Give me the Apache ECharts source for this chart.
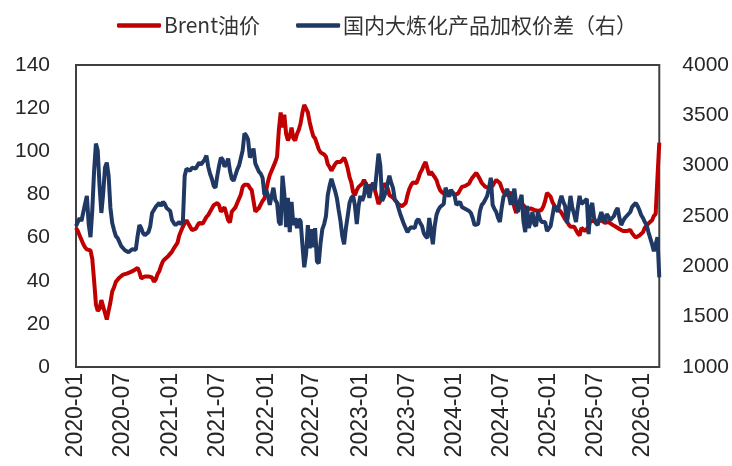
<!DOCTYPE html>
<html>
<head>
<meta charset="utf-8">
<script src="https://cdn.jsdelivr.net/npm/echarts@6/dist/echarts.min.js"></script>
<style>
html,body{margin:0;padding:0;background:#fff;}
#c{width:732px;height:466px;}
</style>
</head>
<body>
<div id="c"></div>
<script>
// Weekly observations starting 2020-01-03
const startDate = '2020-01-03';
const seriesNames = ['Brent油价', '国内大炼化产品加权价差（右）'];
const leftTicks = [0, 140, 20];
const rightTicks = [1000, 4000, 500];

const brent = [
64.5,63,61,59,57,55.5,54.5,55,54,50,
40,29,26,27,31,28,25,22,26,30,
35,37,39.5,40.5,41.5,42,42.8,43,43.3,43.5,
44,44.2,44.8,45.5,46,44,41,41.5,42,41.5,
42,42.5,41.5,39.5,40.5,43,44.5,47,49,50,
50.5,51.5,52,53.5,55,55.5,57.5,61,63,65,
66.8,68,66.5,65,63.5,62.6,64,65.5,66.8,67.5,
66.5,68,69.5,70.5,72,73.5,75,75.5,76,75,
72,73,74,71,68,67,72,73,74,76,
78,80,83.5,84.5,85.3,84.5,83,82,77,72,
71.5,73.7,74,77,78,82,86,89,91,93,
95,97.5,110,118,111,117,108,105,107,111,
106,105,108,110,113,118,121.5,121,118,113.5,
110,107,106,106,101,99.5,99,98.5,97.5,94,
92.7,91,92.5,94,95,94.5,95,96,97,95,
92,88,85.5,81,79.7,82,83.5,84,85,86.7,
85,83,84,84.5,84,82,79,75.5,77,82.5,
85,85.3,83,79.7,79.5,78.5,77.5,76.5,75.5,75,
74.5,74,76,79.7,82.5,84.4,85.5,85.8,85.3,87.5,
90,91.5,93.5,95,92,89,90.5,90.5,88,86.7,
84,82,81,80.5,80,79.7,80,80.8,81,79.7,
80,80.5,82,83.5,83.8,84,84.4,85,86.7,88,
89,90,88.5,87,85.3,84.5,83.5,83,83,83.3,
84,85.5,86.7,86,85.3,83,81,80.5,79.7,80,
81,78,74,71.4,73.5,76,76.5,75,74,73,
72.8,73.5,73.7,72.8,72,72.3,72.5,72.8,74.5,77,
80.7,81,79,76.5,75,73.5,72.8,72.5,71.5,70,
68.5,67.5,66,65,64.8,65,64.4,62,61,64.5,
64,63,62.6,65,68,68.5,67.5,67,67.5,68,
68,67.5,66.8,67,67.2,66.8,66,65.5,65,64.5,
64,63.5,63,62.6,63,63.3,63.5,62,61,60,
60.5,61,61,62.5,64.5,65.5,66.5,67,68,70,
71,88,104
];

const spread = [
2400,2390,2480,2450,2440,2620,2700,2420,2290,2560,
2950,3220,3150,2800,2530,2720,2980,3030,2900,2580,
2430,2360,2300,2280,2270,2200,2180,2160,2145,2140,
2150,2170,2160,2165,2300,2410,2380,2330,2310,2320,
2340,2400,2530,2560,2590,2610,2630,2600,2640,2620,
2580,2570,2550,2460,2430,2410,2420,2440,2420,2440,
2900,2970,2960,2950,2980,2990,2970,2980,3030,3010,
3000,3060,3100,2990,2920,2870,2800,2780,2900,3000,
3080,3060,2990,3020,3070,2950,2870,2850,2840,2960,
3000,3000,3150,3320,3300,3260,3080,3120,3170,3020,
2980,2940,2920,2880,2710,2760,2700,2610,2700,2780,
2660,2630,2440,2410,2900,2720,2390,2680,2340,2640,
2410,2480,2380,2470,2450,2210,1990,2120,2410,2180,
2370,2190,2380,2050,2030,2230,2370,2420,2500,2710,
2800,2870,2880,2750,2680,2560,2450,2300,2220,2380,
2500,2630,2680,2700,2600,2420,2600,2700,2650,2700,
2830,2760,2680,2780,2830,2760,2750,3120,3000,2650,
2690,2740,2820,2900,2830,2780,2660,2640,2630,2520,
2470,2420,2380,2340,2370,2390,2385,2380,2450,2470,
2430,2400,2330,2300,2280,2480,2350,2220,2400,2510,
2560,2590,2600,2620,2780,2790,2690,2760,2770,2700,
2610,2620,2640,2590,2580,2570,2560,2550,2530,2480,
2410,2400,2420,2550,2610,2630,2640,2700,2780,2880,
2610,2570,2540,2480,2440,2580,2690,2720,2770,2700,
2610,2700,2770,2620,2540,2650,2710,2450,2340,2600,
2380,2450,2540,2420,2400,2540,2480,2440,2440,2440,
2350,2360,2400,2500,2600,2580,2540,2640,2700,2640,
2600,2430,2550,2700,2580,2520,2440,2580,2700,2620,
2610,2650,2670,2320,2580,2630,2480,2430,2410,2480,
2540,2480,2440,2520,2530,2460,2450,2500,2550,2580,
2480,2410,2450,2480,2500,2520,2540,2590,2610,2630,
2600,2560,2510,2480,2440,2410,2340,2280,2220,2150,
2160,2290,1890
];

// Weekly date categories
const dates = [];
(function(){
  const d = new Date(startDate + 'T00:00:00Z');
  for (let i = 0; i < brent.length; i++) {
    const t = new Date(d.getTime() + i * 7 * 86400000);
    dates.push(t.toISOString().slice(0, 10));
  }
})();

function isHalfYearStart(v) {
  const m = v.slice(5, 7), day = +v.slice(8, 10);
  return (m === '01' || m === '07') && day <= 7;
}

const chart = echarts.init(document.getElementById('c'), null, {renderer: 'canvas'});
const axisFont = {fontFamily: '"Liberation Sans", Arial, sans-serif', fontSize: 21, color: '#262626'};
chart.setOption({
  animation: false,
  backgroundColor: '#fff',
  legend: {
    top: 10,
    left: 112,
    itemWidth: 44,
    itemHeight: 4.5,
    itemGap: 36,
    icon: 'roundRect',
    textStyle: {fontFamily: '"Noto Sans CJK SC", sans-serif', fontSize: 21, color: '#333333', padding: [0, 0, 0, -2]},
    data: seriesNames
  },
  grid: {
    left: 76, right: 72, top: 65, bottom: 99,
    show: true, borderColor: '#404040', borderWidth: 2, backgroundColor: 'transparent'
  },
  xAxis: {
    type: 'category',
    data: dates,
    boundaryGap: false,
    axisLine: {show: false},
    axisTick: {show: false},
    splitLine: {show: false},
    axisLabel: Object.assign({}, axisFont, {
      fontSize: 23,
      rotate: 90,
      margin: 6,
      interval: function (idx, v) { return isHalfYearStart(v); },
      formatter: function (v) { return v.slice(0, 7); }
    })
  },
  yAxis: [
    {
      type: 'value', min: leftTicks[0], max: leftTicks[1], interval: leftTicks[2],
      position: 'left',
      axisLine: {show: false}, axisTick: {show: false}, splitLine: {show: false},
      axisLabel: Object.assign({margin: 26, formatter: function (v) { return String(v); }}, axisFont)
    },
    {
      type: 'value', min: rightTicks[0], max: rightTicks[1], interval: rightTicks[2],
      position: 'right',
      axisLine: {show: false}, axisTick: {show: false}, splitLine: {show: false},
      axisLabel: Object.assign({margin: 23, formatter: function (v) { return String(v); }}, axisFont)
    }
  ],
  series: [
    {
      name: seriesNames[0], type: 'line', data: brent, yAxisIndex: 0,
      showSymbol: false, symbol: 'none',
      lineStyle: {color: '#C00000', width: 4},
      itemStyle: {color: '#C00000'}
    },
    {
      name: seriesNames[1], type: 'line', data: spread, yAxisIndex: 1,
      showSymbol: false, symbol: 'none',
      lineStyle: {color: '#1F3864', width: 4},
      itemStyle: {color: '#1F3864'}
    }
  ]
});
</script>
</body>
</html>
